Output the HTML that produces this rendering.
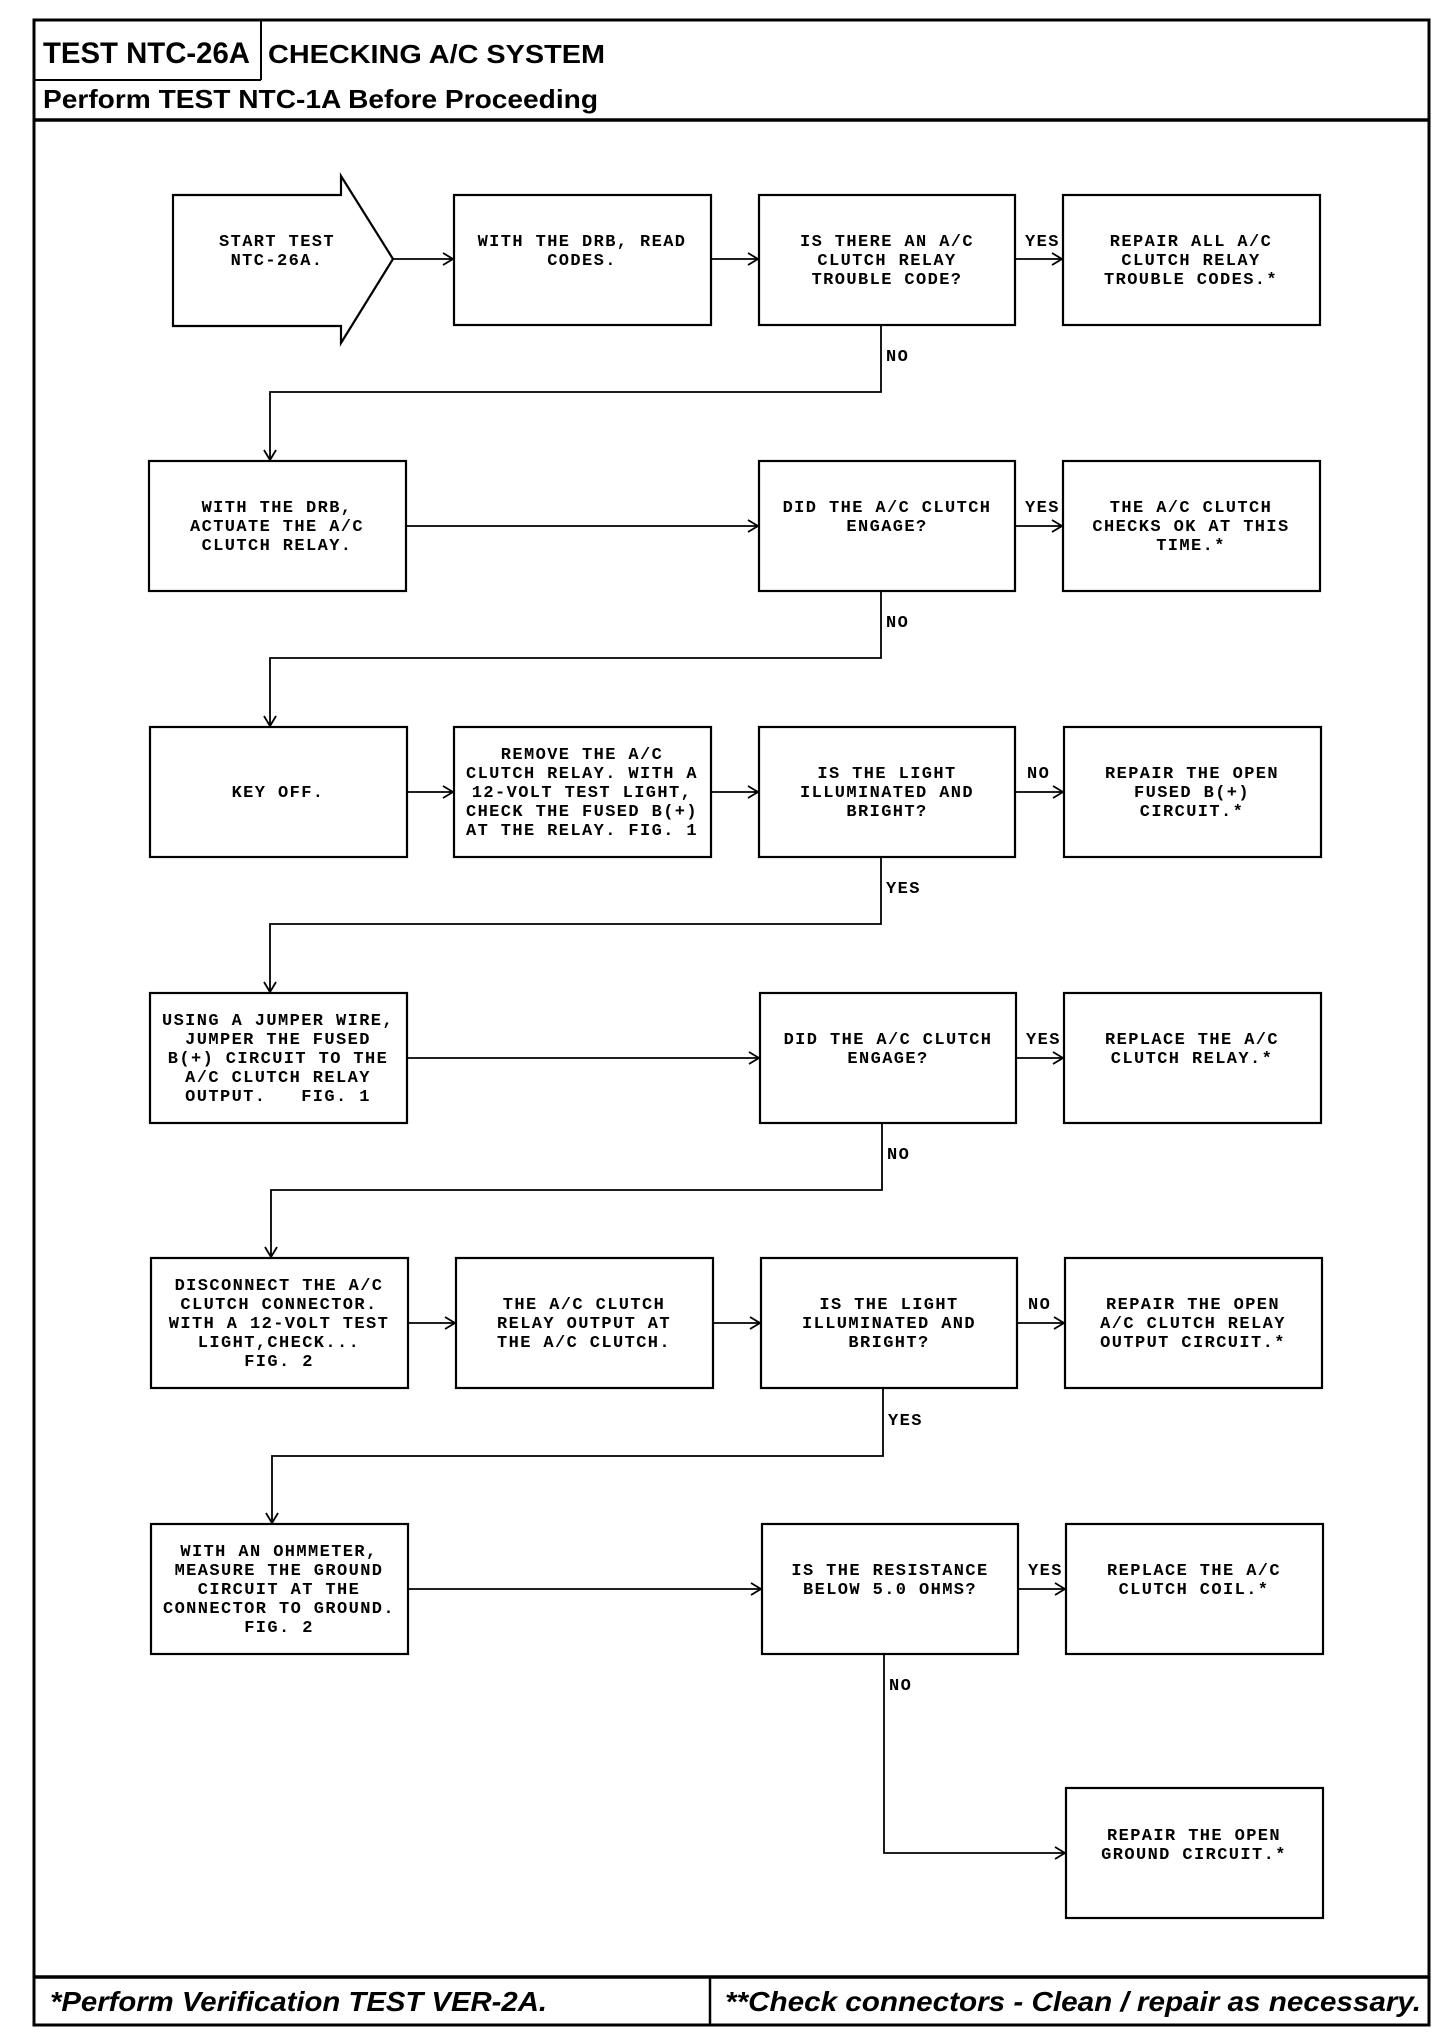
<!DOCTYPE html>
<html><head><meta charset="utf-8"><style>
html,body{margin:0;padding:0;background:#fff}
svg{display:block}
.m{font-family:"Liberation Mono",monospace;font-size:17px;letter-spacing:1.4px;font-weight:bold;fill:#000}
.h{font-family:"Liberation Sans",sans-serif;font-weight:bold;fill:#000}
</style></head><body>
<svg width="1456" height="2036" viewBox="0 0 1456 2036" xmlns="http://www.w3.org/2000/svg">
<g fill="none" stroke="#000">
<rect x="34" y="20" width="1395" height="2005" stroke-width="3"/>
<line x1="34" y1="120" x2="1429" y2="120" stroke-width="3.5"/>
<line x1="34" y1="80" x2="261" y2="80" stroke-width="2"/>
<line x1="261" y1="20" x2="261" y2="80" stroke-width="2"/>
<line x1="34" y1="1977" x2="1429" y2="1977" stroke-width="3.5"/>
<line x1="710" y1="1977" x2="710" y2="2025" stroke-width="2.5"/>
</g>
<text class="h" x="43" y="63" font-size="30" textLength="207" lengthAdjust="spacingAndGlyphs">TEST NTC-26A</text>
<text class="h" x="268" y="63" font-size="26" textLength="337" lengthAdjust="spacingAndGlyphs">CHECKING A/C SYSTEM</text>
<text class="h" x="43" y="108" font-size="26" textLength="555" lengthAdjust="spacingAndGlyphs">Perform TEST NTC-1A Before Proceeding</text>
<text class="h" x="50" y="2011" font-size="28" font-style="italic" textLength="497" lengthAdjust="spacingAndGlyphs">*Perform Verification TEST VER-2A.</text>
<text class="h" x="725" y="2011" font-size="28" font-style="italic" textLength="696" lengthAdjust="spacingAndGlyphs">**Check connectors - Clean / repair as necessary.</text>

<g fill="none" stroke="#000" stroke-width="2.2">
<!-- start arrow -->
<path d="M173 195 H341 V176 L393 259 L341 343 V326 H173 Z"/>
<!-- row1 -->
<rect x="454" y="195" width="257" height="130"/>
<rect x="759" y="195" width="256" height="130"/>
<rect x="1063" y="195" width="257" height="130"/>
<!-- row2 -->
<rect x="149" y="461" width="257" height="130"/>
<rect x="759" y="461" width="256" height="130"/>
<rect x="1063" y="461" width="257" height="130"/>
<!-- row3 -->
<rect x="150" y="727" width="257" height="130"/>
<rect x="454" y="727" width="257" height="130"/>
<rect x="759" y="727" width="256" height="130"/>
<rect x="1064" y="727" width="257" height="130"/>
<!-- row4 -->
<rect x="150" y="993" width="257" height="130"/>
<rect x="760" y="993" width="256" height="130"/>
<rect x="1064" y="993" width="257" height="130"/>
<!-- row5 -->
<rect x="151" y="1258" width="257" height="130"/>
<rect x="456" y="1258" width="257" height="130"/>
<rect x="761" y="1258" width="256" height="130"/>
<rect x="1065" y="1258" width="257" height="130"/>
<!-- row6 -->
<rect x="151" y="1524" width="257" height="130"/>
<rect x="762" y="1524" width="256" height="130"/>
<rect x="1066" y="1524" width="257" height="130"/>
<!-- row7 -->
<rect x="1066" y="1788" width="257" height="130"/>
</g>

<g fill="none" stroke="#000" stroke-width="1.8">
<!-- row1 horizontals -->
<path d="M393 259 H453 M443 253 L453 259 L443 265"/>
<path d="M711 259 H758 M748 253 L758 259 L748 265"/>
<path d="M1015 259 H1062 M1052 253 L1062 259 L1052 265"/>
<!-- down 1 -->
<path d="M881 325 V392 H270 V460 M264 450 L270 460 L276 450"/>
<!-- row2 -->
<path d="M406 526 H758 M748 520 L758 526 L748 532"/>
<path d="M1015 526 H1062 M1052 520 L1062 526 L1052 532"/>
<path d="M881 591 V658 H270 V726 M264 716 L270 726 L276 716"/>
<!-- row3 -->
<path d="M407 792 H453 M443 786 L453 792 L443 798"/>
<path d="M711 792 H758 M748 786 L758 792 L748 798"/>
<path d="M1015 792 H1063 M1053 786 L1063 792 L1053 798"/>
<path d="M881 857 V924 H270 V992 M264 982 L270 992 L276 982"/>
<!-- row4 -->
<path d="M407 1058 H759 M749 1052 L759 1058 L749 1064"/>
<path d="M1016 1058 H1063 M1053 1052 L1063 1058 L1053 1064"/>
<path d="M882 1123 V1190 H271 V1257 M265 1247 L271 1257 L277 1247"/>
<!-- row5 -->
<path d="M408 1323 H455 M445 1317 L455 1323 L445 1329"/>
<path d="M713 1323 H760 M750 1317 L760 1323 L750 1329"/>
<path d="M1017 1323 H1064 M1054 1317 L1064 1323 L1054 1329"/>
<path d="M883 1388 V1456 H272 V1523 M266 1513 L272 1523 L278 1513"/>
<!-- row6 -->
<path d="M408 1589 H761 M751 1583 L761 1589 L751 1595"/>
<path d="M1018 1589 H1065 M1055 1583 L1065 1589 L1055 1595"/>
<path d="M884 1654 V1853 H1065 M1055 1847 L1065 1853 L1055 1859"/>
</g>

<g class="m" text-anchor="middle">
<text x="277" y="246">START TEST</text><text x="277" y="265">NTC-26A.</text>
<text x="582" y="246">WITH THE DRB, READ</text><text x="582" y="265">CODES.</text>
<text x="887" y="246">IS THERE AN A/C</text><text x="887" y="265">CLUTCH RELAY</text><text x="887" y="284">TROUBLE CODE?</text>
<text x="1191" y="246">REPAIR ALL A/C</text><text x="1191" y="265">CLUTCH RELAY</text><text x="1191" y="284">TROUBLE CODES.*</text>

<text x="277" y="512">WITH THE DRB,</text><text x="277" y="531">ACTUATE THE A/C</text><text x="277" y="550">CLUTCH RELAY.</text>
<text x="887" y="512">DID THE A/C CLUTCH</text><text x="887" y="531">ENGAGE?</text>
<text x="1191" y="512">THE A/C CLUTCH</text><text x="1191" y="531">CHECKS OK AT THIS</text><text x="1191" y="550">TIME.*</text>

<text x="278" y="797">KEY OFF.</text>
<text x="582" y="759">REMOVE THE A/C</text><text x="582" y="778">CLUTCH RELAY. WITH A</text><text x="582" y="797">12-VOLT TEST LIGHT,</text><text x="582" y="816">CHECK THE FUSED B(+)</text><text x="582" y="835">AT THE RELAY. FIG. 1</text>
<text x="887" y="778">IS THE LIGHT</text><text x="887" y="797">ILLUMINATED AND</text><text x="887" y="816">BRIGHT?</text>
<text x="1192" y="778">REPAIR THE OPEN</text><text x="1192" y="797">FUSED B(+)</text><text x="1192" y="816">CIRCUIT.*</text>

<text x="278" y="1025">USING A JUMPER WIRE,</text><text x="278" y="1044">JUMPER THE FUSED</text><text x="278" y="1063">B(+) CIRCUIT TO THE</text><text x="278" y="1082">A/C CLUTCH RELAY</text><text x="278" y="1101" xml:space="preserve">OUTPUT.   FIG. 1</text>
<text x="888" y="1044">DID THE A/C CLUTCH</text><text x="888" y="1063">ENGAGE?</text>
<text x="1192" y="1044">REPLACE THE A/C</text><text x="1192" y="1063">CLUTCH RELAY.*</text>

<text x="279" y="1290">DISCONNECT THE A/C</text><text x="279" y="1309">CLUTCH CONNECTOR.</text><text x="279" y="1328">WITH A 12-VOLT TEST</text><text x="279" y="1347">LIGHT,CHECK...</text><text x="279" y="1366">FIG. 2</text>
<text x="584" y="1309">THE A/C CLUTCH</text><text x="584" y="1328">RELAY OUTPUT AT</text><text x="584" y="1347">THE A/C CLUTCH.</text>
<text x="889" y="1309">IS THE LIGHT</text><text x="889" y="1328">ILLUMINATED AND</text><text x="889" y="1347">BRIGHT?</text>
<text x="1193" y="1309">REPAIR THE OPEN</text><text x="1193" y="1328">A/C CLUTCH RELAY</text><text x="1193" y="1347">OUTPUT CIRCUIT.*</text>

<text x="279" y="1556">WITH AN OHMMETER,</text><text x="279" y="1575">MEASURE THE GROUND</text><text x="279" y="1594">CIRCUIT AT THE</text><text x="279" y="1613">CONNECTOR TO GROUND.</text><text x="279" y="1632">FIG. 2</text>
<text x="890" y="1575">IS THE RESISTANCE</text><text x="890" y="1594">BELOW 5.0 OHMS?</text>
<text x="1194" y="1575">REPLACE THE A/C</text><text x="1194" y="1594">CLUTCH COIL.*</text>

<text x="1194" y="1840">REPAIR THE OPEN</text><text x="1194" y="1859">GROUND CIRCUIT.*</text>
</g>

<g class="m">
<text x="1025" y="246">YES</text>
<text x="886" y="361">NO</text>
<text x="1025" y="512">YES</text>
<text x="886" y="627">NO</text>
<text x="1027" y="778">NO</text>
<text x="886" y="893">YES</text>
<text x="1026" y="1044">YES</text>
<text x="887" y="1159">NO</text>
<text x="1028" y="1309">NO</text>
<text x="888" y="1425">YES</text>
<text x="1028" y="1575">YES</text>
<text x="889" y="1690">NO</text>
</g>
</svg>
</body></html>
